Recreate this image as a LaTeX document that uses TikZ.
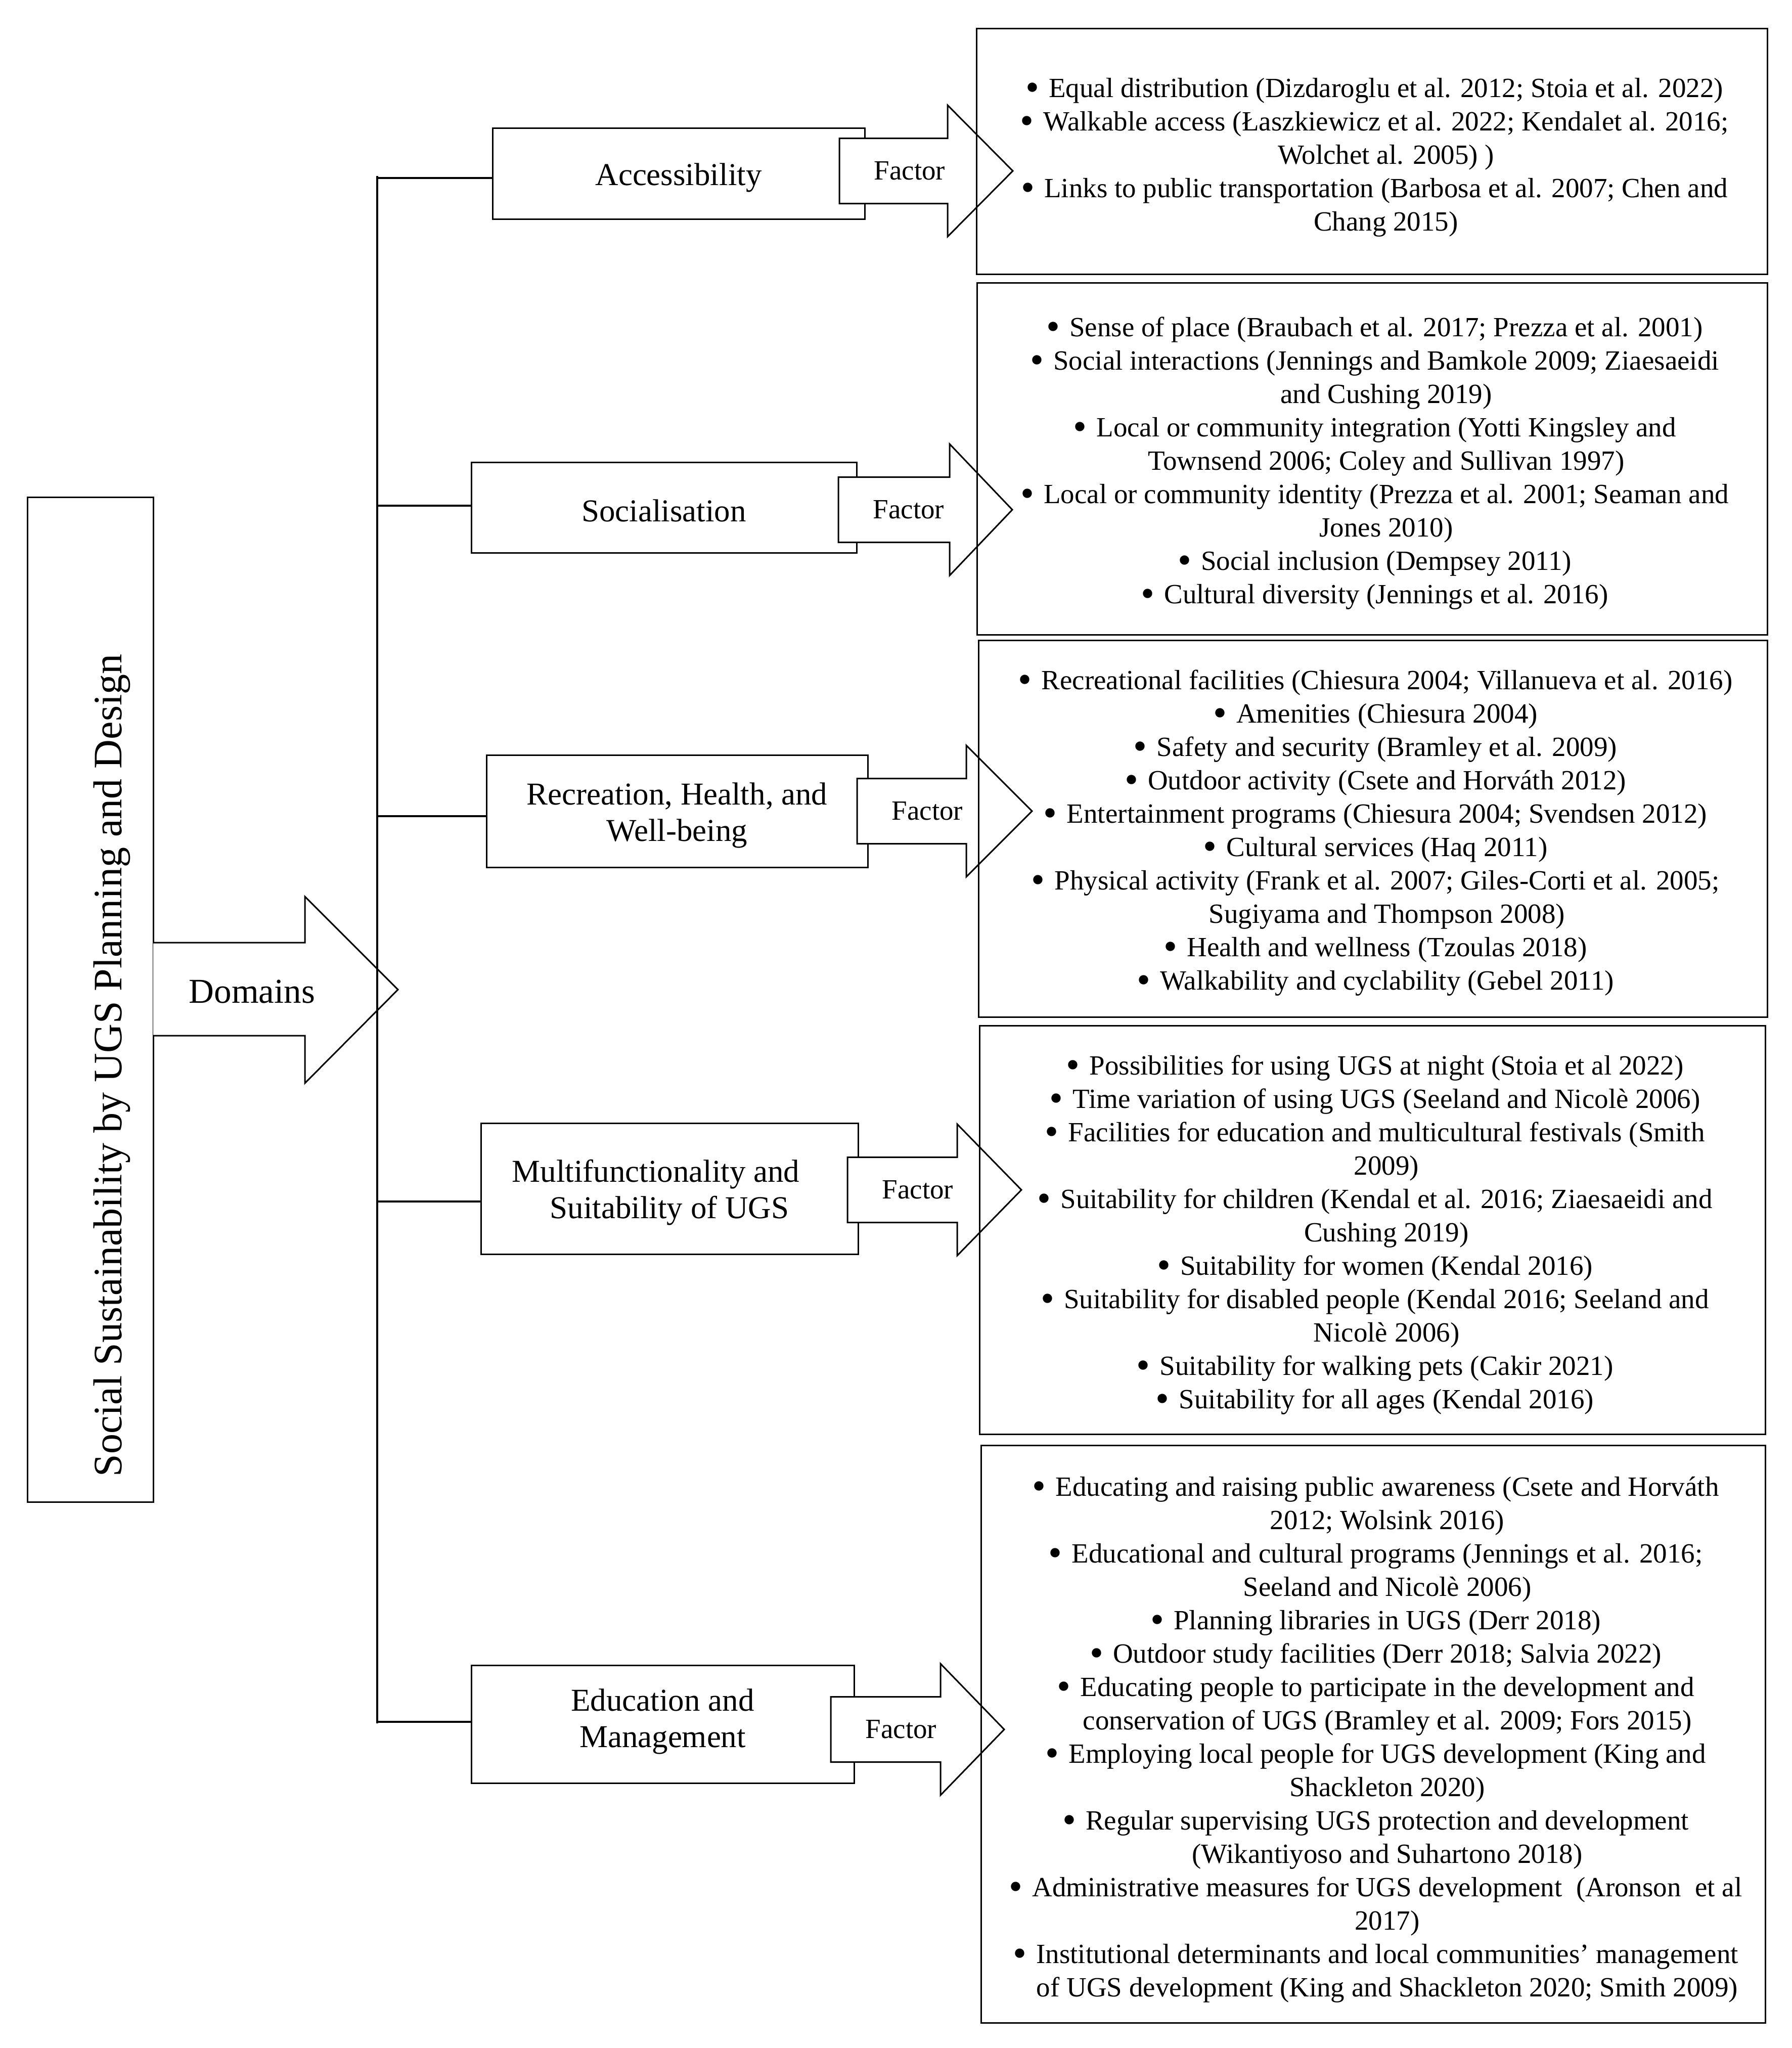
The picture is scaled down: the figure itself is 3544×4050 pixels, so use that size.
\documentclass[tikz,border=0pt]{standalone}
\usepackage{graphicx}
\usepackage{fontspec}
\setmainfont{Liberation Serif}
\newcommand\bu{\makebox[11.5pt][l]{\raisebox{-0.11em}{\scalebox{1.4}{\textbullet}}}}
\newcommand\hg{\hspace*{11.5pt}}
\tikzset{
  dbox/.style={draw, line width=0.75pt, fill=white, inner sep=0pt},
  dtext/.style={align=center, inner sep=0pt, yshift=-2pt,
    font=\fontsize{15.75pt}{18pt}\selectfont},
  lbox/.style={draw, line width=0.75pt, inner sep=0pt},
  mainbox/.style={draw, line width=0.75pt, inner sep=0pt},
  ltext/.style={align=center, inner sep=0pt, font=\fontsize{13.75pt}{16.5pt}\selectfont},
  arrowshape/.style={draw, fill=white, line width=0.75pt, line join=miter},
  ftext/.style={anchor=base, inner sep=0pt, font=\fontsize{13.75pt}{16.5pt}\selectfont},
  branch/.style={line width=0.9pt},
  bracket/.style={line width=1pt},
}
\newcommand\factorarrow[5]{% name, shaft left x, centre y, head base x, tip x
  \draw[arrowshape] (#2,#3-64.5) -- (#4,#3-64.5) -- (#4,#3-130) -- (#5,#3)
     -- (#4,#3+130) -- (#4,#3+64.5) -- (#2,#3+64.5) -- cycle;
  \node[ftext] (#1) at (#2+139,#3+17) {Factor};}
\begin{document}
\begin{tikzpicture}[x=0.25pt, y=-0.25pt]
\useasboundingbox (0,0) rectangle (3544,4050);
\fill[white] (0,0) rectangle (3544,4050);

% main box and title
\node[mainbox, minimum width=249*0.25pt, minimum height=1987*0.25pt] (main) at (178.5,1976.5) {};
\node[rotate=90, anchor=base, inner sep=0pt, font=\fontsize{20pt}{24pt}\selectfont] (title) at (240,2107)
  {Social Sustainability by UGS Planning and Design};

% Domains arrow
\draw[arrowshape] (303,1864) -- (603,1864) -- (603,1773) -- (787,1957) -- (603,2142) -- (603,2048) -- (303,2048);
\node[anchor=base, inner sep=0pt, font=\fontsize{17.25pt}{20pt}\selectfont] (domains) at (498.5,1983) {Domains};

% domain boxes
\node[dbox, minimum width=736*0.25pt, minimum height=180*0.25pt] (acc) at (1342,343) {};
\node[dbox, minimum width=762*0.25pt, minimum height=179*0.25pt] (soc) at (1313,1003.5) {};
\node[dbox, minimum width=754*0.25pt, minimum height=222*0.25pt] (rec) at (1339,1604) {};
\node[dbox, minimum width=746*0.25pt, minimum height=259*0.25pt] (mul) at (1324,2350.5) {};
\node[dbox, minimum width=757*0.25pt, minimum height=233*0.25pt] (edu) at (1310.5,3409.5) {};
\node[dtext] (accT) at (acc.center) {Accessibility};
\node[dtext, yshift=0.5pt] (socT) at (soc.center) {Socialisation};
\node[dtext] (recT) at (rec.center) {Recreation, Health, and\\Well-being};
\node[dtext] (mulT) at (mul.center) {Multifunctionality and\hspace*{13.5pt}\\Suitability of UGS};
\node[dtext, yshift=3.25pt] (eduT) at (edu.center) {Education and\\Management};

% bracket
\coordinate (vtop) at (746,348);
\coordinate (vbot) at (746,3408);
\draw[bracket] (vtop) -- (vbot);
\coordinate (b1) at (746,352);
\coordinate (b2) at (746,1000);
\coordinate (b3) at (746,1614);
\coordinate (b4) at (746,2376);
\coordinate (b5) at (746,3405);
\draw[branch] (b1) -- (b1 -| acc.west);
\draw[branch] (b2) -- (b2 -| soc.west);
\draw[branch] (b3) -- (b3 -| rec.west);
\draw[branch] (b4) -- (b4 -| mul.west);
\draw[branch] (b5) -- (b5 -| edu.west);

% factor arrows
\factorarrow{f1}{1660}{338}{1874}{2003}
\factorarrow{f2}{1658}{1008}{1878}{2002}
\factorarrow{f3}{1695}{1604}{1911}{2041}
\factorarrow{f4}{1676}{2353}{1893}{2020}
\factorarrow{f5}{1643}{3420}{1860}{1986}

% list boxes
\node[lbox, minimum width=1564*0.25pt, minimum height=486*0.25pt] (L1) at (2713,299) {};
\node[lbox, minimum width=1563*0.25pt, minimum height=696*0.25pt] (L2) at (2713.5,907) {};
\node[lbox, minimum width=1560*0.25pt, minimum height=745*0.25pt] (L3) at (2715,1638.5) {};
\node[lbox, minimum width=1554*0.25pt, minimum height=808*0.25pt] (L4) at (2714,2432) {};
\node[lbox, minimum width=1551*0.25pt, minimum height=1142*0.25pt] (L5) at (2715.5,3429) {};

\node[ltext] (T1) at (2718,311) {%
\bu Equal distribution (Dizdaroglu et al. 2012; Stoia et al. 2022)\\
\bu Walkable access (Łaszkiewicz et al. 2022; Kendalet al. 2016;\\
\hg Wolchet al. 2005) )\\
\bu Links to public transportation (Barbosa et al. 2007; Chen and\\
\hg Chang 2015)};

\node[ltext] (T2) at (2718.5,916) {%
\bu Sense of place (Braubach et al. 2017; Prezza et al. 2001)\\
\bu Social interactions (Jennings and Bamkole 2009; Ziaesaeidi\\
\hg and Cushing 2019)\\
\bu Local or community integration (Yotti Kingsley and\\
\hg Townsend 2006; Coley and Sullivan 1997)\\
\bu Local or community identity (Prezza et al. 2001; Seaman and\\
\hg Jones 2010)\\
\bu Social inclusion (Dempsey 2011)\\
\bu Cultural diversity (Jennings et al. 2016)};

\node[ltext] (T3) at (2720,1647) {%
\bu Recreational facilities (Chiesura 2004; Villanueva et al. 2016)\\
\bu Amenities (Chiesura 2004)\\
\bu Safety and security (Bramley et al. 2009)\\
\bu Outdoor activity (Csete and Horváth 2012)\\
\bu Entertainment programs (Chiesura 2004; Svendsen 2012)\\
\bu Cultural services (Haq 2011)\\
\bu Physical activity (Frank et al. 2007; Giles-Corti et al. 2005;\\
\hg Sugiyama and Thompson 2008)\\
\bu Health and wellness (Tzoulas 2018)\\
\bu Walkability and cyclability (Gebel 2011)};

\node[ltext] (T4) at (2719,2442) {%
\bu Possibilities for using UGS at night (Stoia et al 2022)\\
\bu Time variation of using UGS (Seeland and Nicolè 2006)\\
\bu Facilities for education and multicultural festivals (Smith\\
\hg 2009)\\
\bu Suitability for children (Kendal et al. 2016; Ziaesaeidi and\\
\hg Cushing 2019)\\
\bu Suitability for women (Kendal 2016)\\
\bu Suitability for disabled people (Kendal 2016; Seeland and\\
\hg Nicolè 2006)\\
\bu Suitability for walking pets (Cakir 2021)\\
\bu Suitability for all ages (Kendal 2016)};

\node[ltext] (T5) at (2720.5,3440) {%
\bu Educating and raising public awareness (Csete and Horváth\\
\hg 2012; Wolsink 2016)\\
\bu Educational and cultural programs (Jennings et al. 2016;\\
\hg Seeland and Nicolè 2006)\\
\bu Planning libraries in UGS (Derr 2018)\\
\bu Outdoor study facilities (Derr 2018; Salvia 2022)\\
\bu Educating people to participate in the development and\\
\hg conservation of UGS (Bramley et al. 2009; Fors 2015)\\
\bu Employing local people for UGS development (King and\\
\hg Shackleton 2020)\\
\bu Regular supervising UGS protection and development\\
\hg (Wikantiyoso and Suhartono 2018)\\
\bu Administrative measures for UGS development\ \ (Aronson\ \ et al\\
\hg 2017)\\
\bu Institutional determinants and local communities’ management\\
\hg of UGS development (King and Shackleton 2020; Smith 2009)};
\end{tikzpicture}
\end{document}
